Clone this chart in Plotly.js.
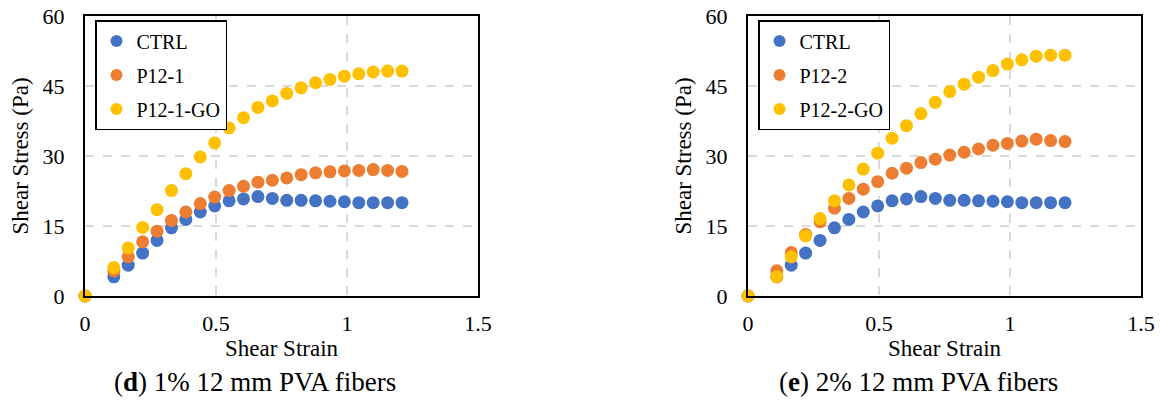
<!DOCTYPE html>
<html>
<head>
<meta charset="utf-8">
<script src="https://cdn.plot.ly/plotly-3.0.1.min.js"></script>
<style>html,body{margin:0;padding:0;background:#fff;}#chart{width:1160px;height:403px;}</style>
</head>
<body>
<div id="chart"></div>
<script>
// Shear strain values (shared by all series)
const strain = [0, 0.11, 0.165, 0.22, 0.275, 0.33, 0.385, 0.44, 0.495, 0.55, 0.605, 0.66, 0.715, 0.77, 0.825, 0.88, 0.935, 0.99, 1.045, 1.10, 1.155, 1.21];

// Panel (d): 1% 12 mm PVA fibers
const ctrl = [0, 4.1, 6.6, 9.2, 11.9, 14.6, 16.4, 18.0, 19.3, 20.4, 20.8, 21.3, 20.9, 20.5, 20.5, 20.4, 20.3, 20.2, 20.0, 20.0, 20.0, 20.0];
const p12_1 = [0, 5.4, 8.4, 11.6, 13.9, 16.2, 18.0, 19.8, 21.2, 22.6, 23.5, 24.4, 24.8, 25.3, 26.0, 26.4, 26.6, 26.8, 26.9, 27.1, 26.9, 26.7];
const p12_1_go = [0, 6.1, 10.3, 14.7, 18.5, 22.6, 26.2, 29.8, 32.8, 36.0, 38.2, 40.4, 41.8, 43.4, 44.6, 45.7, 46.4, 47.1, 47.6, 48.0, 48.2, 48.2];

// Panel (e): 2% 12 mm PVA fibers
const p12_2 = [0, 5.4, 9.3, 13.2, 15.9, 18.8, 20.9, 22.9, 24.5, 26.3, 27.4, 28.6, 29.3, 30.2, 30.8, 31.5, 32.3, 32.7, 33.2, 33.6, 33.3, 33.1];
const p12_2_go = [0, 4.1, 8.4, 12.9, 16.6, 20.4, 23.8, 27.2, 30.6, 33.8, 36.5, 39.1, 41.5, 43.8, 45.4, 46.9, 48.3, 49.7, 50.6, 51.4, 51.6, 51.6];

const names_d = ["CTRL", "P12-1", "P12-1-GO"];
const names_e = ["CTRL", "P12-2", "P12-2-GO"];
const colors = ["#4472C4", "#ED7D31", "#FFC000"];
const xTicks = [0, 0.5, 1, 1.5];
const xTickText = ["0", "0.5", "1", "1.5"];
const yTicks = [0, 15, 30, 45, 60];
const captions = ["(<b>d</b>) 1% 12 mm PVA fibers", "(<b>e</b>) 2% 12 mm PVA fibers"];
const xTitle = "Shear Strain";
const yTitle = "Shear Stress (Pa)";

const FONT = '"Liberation Serif", "Times New Roman", serif';

function mk(y, name, i, xa, ya, leg) {
  return {
    x: strain, y: y, name: name, type: "scatter", mode: "markers",
    xaxis: xa, yaxis: ya, legend: leg, legendgroup: leg + i,
    cliponaxis: false,
    marker: {color: colors[i], size: 13, line: {width: 0}}
  };
}

const traces = [
  mk(ctrl, names_d[0], 0, "x", "y", "legend"),
  mk(p12_1, names_d[1], 1, "x", "y", "legend"),
  mk(p12_1_go, names_d[2], 2, "x", "y", "legend"),
  mk(ctrl, names_e[0], 0, "x2", "y2", "legend2"),
  mk(p12_2, names_e[1], 1, "x2", "y2", "legend2"),
  mk(p12_2_go, names_e[2], 2, "x2", "y2", "legend2")
];

function xax(dom, anchor) {
  return {
    domain: dom, anchor: anchor, range: [0, 1.5], tickvals: xTicks, ticktext: xTickText,
    showline: true, mirror: true, linecolor: "#000", linewidth: 2,
    showgrid: true, gridcolor: "#d9d9d9", griddash: "dash", gridwidth: 1.5,
    zeroline: false, ticks: "", ticklabelstandoff: 7,
    tickfont: {family: FONT, size: 22, color: "#000"},
    title: {text: xTitle, font: {family: FONT, size: 23, color: "#000"}, standoff: 0}
  };
}
function yax(dom, anchor) {
  return {
    domain: dom, anchor: anchor, range: [0, 60], tickvals: yTicks,
    showline: true, mirror: true, linecolor: "#000", linewidth: 2,
    showgrid: true, gridcolor: "#d9d9d9", griddash: "dash", gridwidth: 1.5,
    zeroline: false, ticks: "", ticklabelstandoff: 14,
    tickfont: {family: FONT, size: 22, color: "#000"},
    title: {text: yTitle, font: {family: FONT, size: 23, color: "#000"}, standoff: 8}
  };
}

function leg(x, y) {
  return {
    x: x, y: y, xanchor: "left", yanchor: "top",
    bgcolor: "#fff", bordercolor: "#000", borderwidth: 1.5,
    font: {family: FONT, size: 20, color: "#000"},
    traceorder: "grouped", tracegroupgap: 5, itemsizing: "constant"
  };
}

const yDom = [1 - 296/403, 1 - 16/403];
const layout = {
  width: 1160, height: 403,
  margin: {l: 0, r: 0, t: 0, b: 0},
  paper_bgcolor: "#fff", plot_bgcolor: "#fff",
  showlegend: true,
  xaxis: xax([85/1160, 478/1160], "y"),
  yaxis: yax(yDom, "x"),
  xaxis2: xax([748/1160, 1141/1160], "y2"),
  yaxis2: yax(yDom, "x2"),
  legend: leg(95/1160, 1 - 20/403),
  legend2: leg(758/1160, 1 - 20/403),
  annotations: [
    {text: captions[0], xref: "paper", yref: "paper", x: 255/1160, y: 1 - 382/403, xanchor: "center", yanchor: "middle", showarrow: false, font: {family: FONT, size: 27, color: "#000"}},
    {text: captions[1], xref: "paper", yref: "paper", x: 918/1160, y: 1 - 382/403, xanchor: "center", yanchor: "middle", showarrow: false, font: {family: FONT, size: 27, color: "#000"}}
  ]
};

Plotly.newPlot("chart", traces, layout, {displayModeBar: false, staticPlot: true});
</script>
</body>
</html>
